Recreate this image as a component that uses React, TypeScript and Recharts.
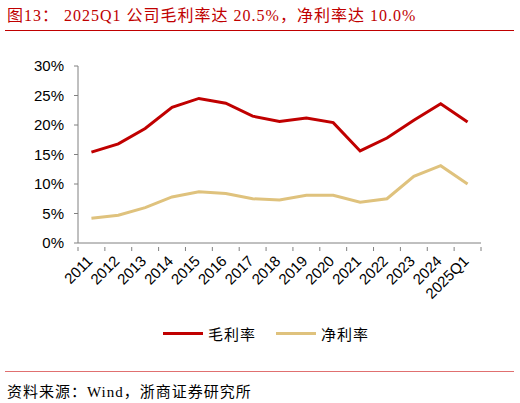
import { ComposedChart, Line, XAxis, YAxis } from 'recharts'

const years = [
  '2011', '2012', '2013', '2014', '2015', '2016', '2017', '2018',
  '2019', '2020', '2021', '2022', '2023', '2024', '2025Q1',
]
const grossMargin = [15.4, 16.8, 19.4, 23.0, 24.5, 23.7, 21.5, 20.6, 21.2, 20.4, 15.6, 17.8, 20.8, 23.6, 20.5]
const netMargin = [4.2, 4.7, 6.0, 7.8, 8.7, 8.4, 7.5, 7.3, 8.1, 8.1, 6.9, 7.5, 11.3, 13.1, 10.0]
const yTicks = [0, 5, 10, 15, 20, 25, 30]

const RED = '#C00000'
const GOLD = '#DFC27D'
const AXIS = '#808080'
const SERIF = '"Liberation Serif", "Noto Sans CJK SC", serif'
const SANS = '"Liberation Sans", Arial, sans-serif'

const data = years.map((year, i) => ({
  year,
  gross: grossMargin[i],
  net: netMargin[i],
}))

// category ticks sit between bands, labels at band centres
function XTick({ x, y, payload, index, visibleTicksCount }: any) {
  const half = payload.offset ?? 0
  const isLast = index === visibleTicksCount - 1
  const top = y - 2
  const tx = x + 2
  const ty = y + 13
  return (
    <g>
      <line x1={x - half} x2={x - half} y1={top} y2={top + 4} stroke={AXIS} />
      {isLast && <line x1={x + half} x2={x + half} y1={top} y2={top + 4} stroke={AXIS} />}
      <text
        x={tx}
        y={ty}
        transform={`rotate(-45 ${tx} ${ty})`}
        textAnchor="end"
        fontSize={15}
        fontFamily={SANS}
        fill="#000"
      >
        {payload.value}
      </text>
    </g>
  )
}

function LegendItem({ color, label }: { color: string; label: string }) {
  return (
    <span style={{ display: 'flex', alignItems: 'center', gap: 5 }}>
      <span style={{ display: 'inline-block', width: 40, height: 3, background: color }} />
      <span>{label}</span>
    </span>
  )
}

export default function App() {
  return (
    <div
      style={{
        position: 'absolute',
        left: 0,
        top: 0,
        width: 520,
        height: 403,
        background: '#fff',
        overflow: 'hidden',
      }}
    >
      <div
        style={{
          position: 'absolute',
          left: 7,
          top: 2,
          fontFamily: SERIF,
          fontSize: 16,
          letterSpacing: 1,
          color: RED,
          whiteSpace: 'nowrap',
        }}
      >
        图13：&nbsp;2025Q1 公司毛利率达 20.5%，净利率达 10.0%
      </div>
      <div style={{ position: 'absolute', left: 5, top: 30, width: 509, height: 1, background: RED }} />

      <ComposedChart
        width={520}
        height={403}
        data={data}
        margin={{ top: 66, right: 39, left: 18, bottom: 100 }}
      >
        <XAxis
          dataKey="year"
          scale="band"
          interval={0}
          height={60}
          tick={<XTick />}
          tickLine={false}
          tickSize={4}
          axisLine={{ stroke: AXIS }}
        />
        <YAxis
          width={60}
          domain={[0, 30]}
          ticks={yTicks}
          interval={0}
          tickFormatter={(v: number) => `${v}%`}
          tickSize={4}
          tickMargin={10}
          tick={{ fontSize: 15, fontFamily: SANS, fill: '#000' }}
          axisLine={{ stroke: AXIS }}
          tickLine={{ stroke: AXIS }}
        />
        <Line
          type="linear"
          dataKey="gross"
          stroke={RED}
          strokeWidth={3}
          dot={false}
          isAnimationActive={false}
        />
        <Line
          type="linear"
          dataKey="net"
          stroke={GOLD}
          strokeWidth={3}
          dot={false}
          isAnimationActive={false}
        />
      </ComposedChart>

      <div
        style={{
          position: 'absolute',
          left: 163,
          top: 323,
          display: 'flex',
          gap: 20,
          fontFamily: SERIF,
          fontSize: 15,
          letterSpacing: 1,
          color: '#000',
        }}
      >
        <LegendItem color={RED} label="毛利率" />
        <LegendItem color={GOLD} label="净利率" />
      </div>

      <div style={{ position: 'absolute', left: 5, top: 371, width: 509, height: 1, background: '#E07070' }} />
      <div
        style={{
          position: 'absolute',
          left: 7,
          top: 380,
          fontFamily: SERIF,
          fontSize: 15,
          letterSpacing: 1,
          color: '#000',
          whiteSpace: 'nowrap',
        }}
      >
        资料来源：Wind，浙商证券研究所
      </div>
    </div>
  )
}
